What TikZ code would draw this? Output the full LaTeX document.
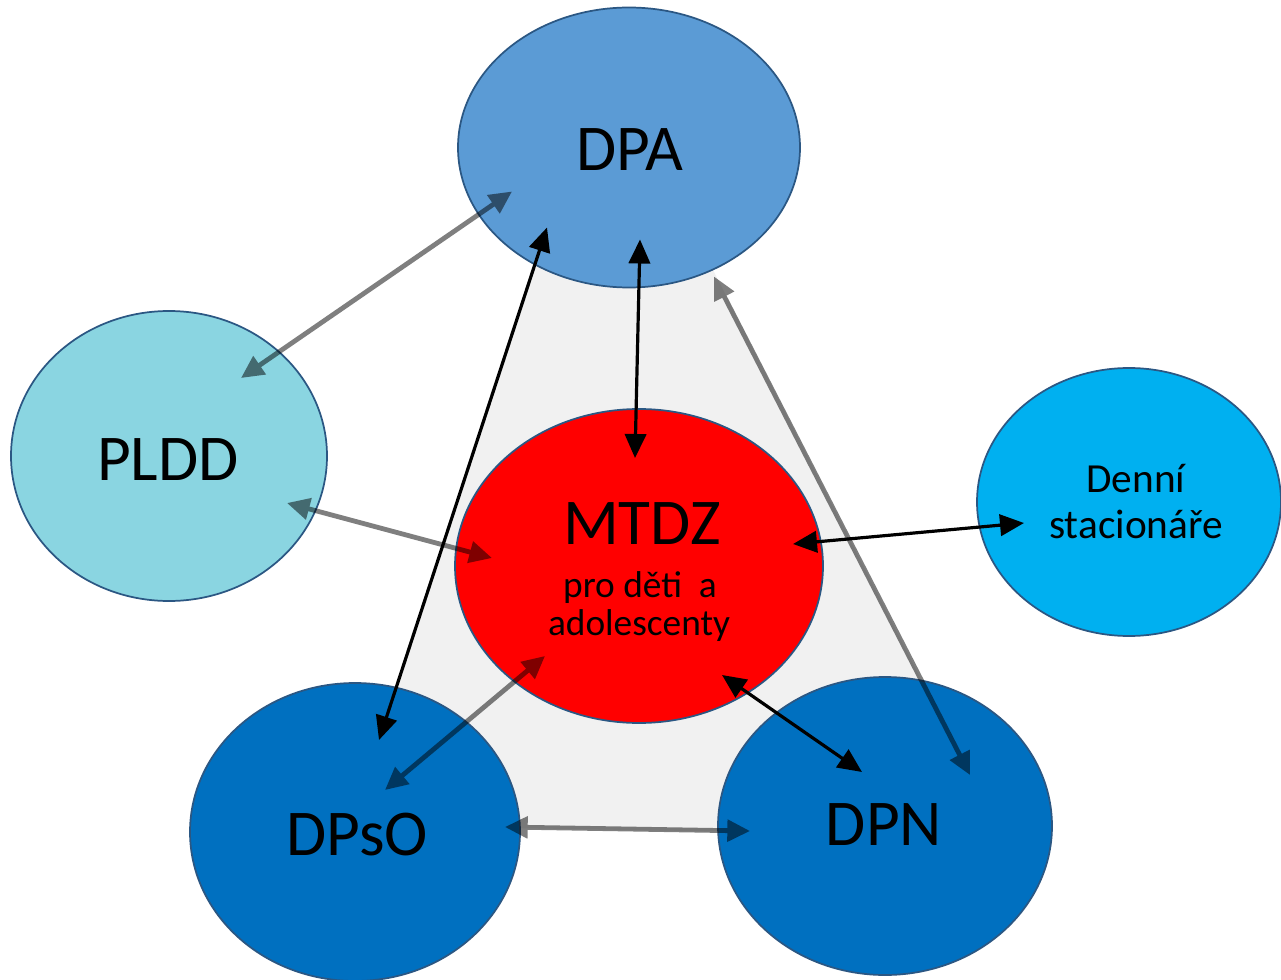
\documentclass[tikz,border=0pt]{standalone}
\usepackage{fontspec}
\setmainfont{Carlito}
\usetikzlibrary{shapes.geometric,arrows.meta,calc}
\definecolor{cDPA}{HTML}{5B9BD5}
\definecolor{cPLDD}{HTML}{8AD5E1}
\definecolor{cMTDZ}{HTML}{FF0000}
\definecolor{cDEN}{HTML}{00B0F0}
\definecolor{cDP}{HTML}{0070C0}
\definecolor{cEdge}{HTML}{2B5783}
\definecolor{cBg}{HTML}{F1F1F1}
\begin{document}
\begin{tikzpicture}[x=0.75pt,y=-0.75pt,
  oval/.style={ellipse,draw=cEdge,line width=1.3pt,inner sep=0pt},
  big/.style={anchor=base,inner sep=0pt,font=\fontsize{49}{52}\selectfont},
  small/.style={anchor=base,inner sep=0pt,font=\fontsize{28}{30}\selectfont},
  dsmall/.style={anchor=base,inner sep=0pt,font=\fontsize{31}{33}\selectfont},
  blk/.style={draw=black,line width=2.4pt,{Triangle[length=18pt,width=16pt]}-{Triangle[length=18pt,width=16pt]}},
  gry/.style={draw=black,line width=3.6pt,{Triangle[length=17pt,width=16pt]}-{Triangle[length=17pt,width=16pt]}}
]
\useasboundingbox (0,0) rectangle (1281,980);
\fill[white] (0,0) rectangle (1281,980);
\fill[cBg] (550,215) -- (712,268) -- (972,780) -- (750,832) -- (508,828) -- (378,745) -- cycle;

\node[oval,fill=cDPA,minimum width=256.5pt,minimum height=210pt] (dpa) at (629,147.5) {};
\node[oval,fill=cPLDD,minimum width=237pt,minimum height=217.5pt] (pldd) at (169,456) {};
\node[oval,fill=cMTDZ,minimum width=276pt,minimum height=235.5pt] (mtdz) at (639,566) {};
\node[oval,fill=cDEN,minimum width=228pt,minimum height=201pt] (den) at (1129,502) {};
\node[oval,fill=cDP,minimum width=247.5pt,minimum height=223.5pt] (dpso) at (355,832) {};
\node[oval,fill=cDP,minimum width=250.5pt,minimum height=223.5pt] (dpn) at (885,826) {};

\node[big] (tdpa) at (630,171) {DPA};
\node[big] (tpldd) at (168,480) {PLDD};
\node[big] (tmtdz) at (642,544) {MTDZ};
\node[small] (tpro) at (640,597) {pro děti\ \ a};
\node[small] (tado) at (639,635) {adolescenty};
\node[dsmall] (tden1) at (1136,492) {Denní};
\node[dsmall] (tden2) at (1136,538) {stacionáře};
\node[big] (tdpso) at (357,855) {DPsO};
\node[big] (tdpn) at (884,845) {DPN};

\coordinate (p1a) at ($(pldd)+(72,-78)$);
\coordinate (p1b) at ($(dpa)+(-117,44)$);
\coordinate (p2a) at ($(dpa)+(-82,80)$);
\coordinate (p2b) at ($(dpso)+(24,-92)$);
\coordinate (p3a) at ($(dpa)+(11,92)$);
\coordinate (p3b) at ($(mtdz)+(-4,-108)$);
\coordinate (p4a) at ($(dpa)+(85,129)$);
\coordinate (p4b) at ($(dpn)+(85,-51)$);
\coordinate (p5a) at ($(pldd)+(118,47)$);
\coordinate (p5b) at ($(mtdz)+(-147,-8)$);
\coordinate (p6a) at ($(mtdz)+(154,-22)$);
\coordinate (p6b) at ($(den)+(-105,21)$);
\coordinate (p7a) at ($(mtdz)+(-94,90)$);
\coordinate (p7b) at ($(dpso)+(30,-42)$);
\coordinate (p8a) at ($(mtdz)+(83,109)$);
\coordinate (p8b) at ($(dpn)+(-23,-54)$);
\coordinate (p9a) at ($(dpso)+(150,-5)$);
\coordinate (p9b) at ($(dpn)+(-135,5)$);

\begin{scope}[transparency group,opacity=0.5]
\draw[gry] (p1a) -- (p1b);
\draw[gry] (p4a) -- (p4b);
\draw[gry] (p5a) -- (p5b);
\draw[gry] (p7a) -- (p7b);
\draw[gry] (p9a) -- (p9b);
\end{scope}
\draw[blk] (p2a) -- (p2b);
\draw[blk] (p3a) -- (p3b);
\draw[blk] (p6a) -- (p6b);
\draw[blk] (p8a) -- (p8b);
\end{tikzpicture}
\end{document}
